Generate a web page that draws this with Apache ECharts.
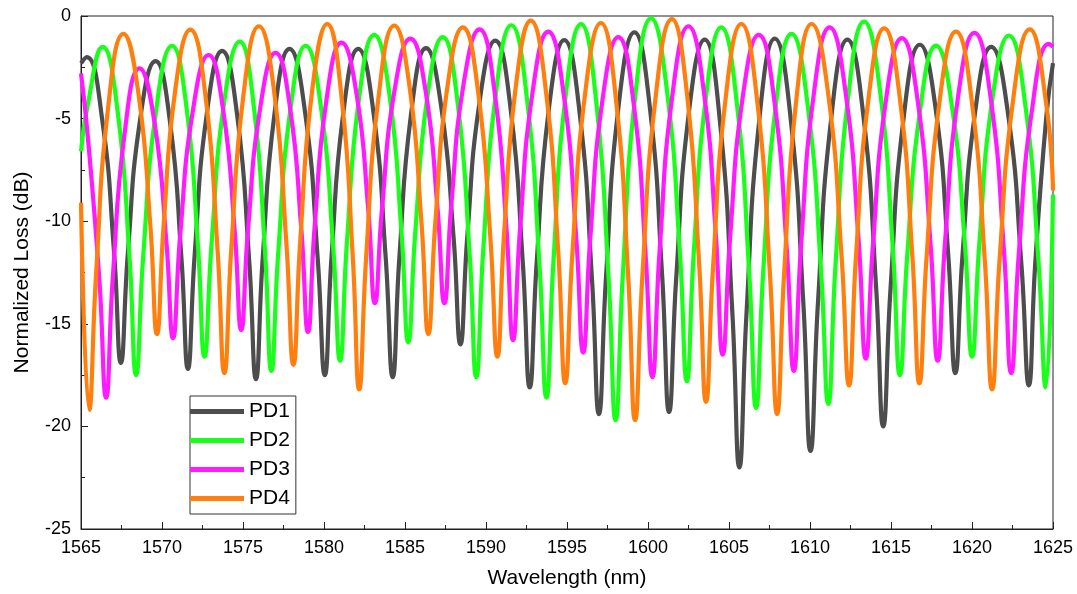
<!DOCTYPE html>
<html>
<head>
<meta charset="utf-8">
<script src="https://cdn.jsdelivr.net/npm/echarts@6/dist/echarts.min.js"></script>
<style>
html,body{margin:0;padding:0;background:#fff;}
#chart{width:1077px;height:594px;}
</style>
</head>
<body>
<div id="chart"></div>
<script>
// Wavelength (nm) vs normalized loss (dB)
const seriesNames = ['PD1', 'PD2', 'PD3', 'PD4'];
const xTicks = [1565, 1570, 1575, 1580, 1585, 1590, 1595, 1600, 1605, 1610, 1615, 1620, 1625];
const yTicks = [-25, -20, -15, -10, -5, 0];

const pd1 = [
  [1565,-2.3],[1565.35,-2.0],[1566.30,-5.0],[1567.04,-11.5],[1567.46,-16.9],
  [1567.89,-11.6],[1568.64,-5.1],[1569.6,-2.2],[1570.5,-5.2],[1571.2,-11.8],[1571.6,-17.2],
  [1572.02,-11.6],[1572.76,-4.8],[1573.71,-1.7],[1574.65,-4.9],[1575.38,-11.9],[1575.8,-17.7],
  [1576.21,-11.9],[1576.94,-4.8],[1577.87,-1.6],[1578.85,-4.8],[1579.61,-11.8],[1580.05,-17.5],
  [1580.46,-11.8],[1581.18,-4.8],[1582.11,-1.6],[1583.07,-4.8],[1583.81,-11.8],[1584.24,-17.6],
  [1584.65,-11.8],[1585.37,-4.8],[1586.3,-1.57],[1587.25,-4.5],[1588.0,-10.8],[1588.42,-16.0],
  [1588.85,-10.7],[1589.6,-4.2],[1590.57,-1.2],[1591.53,-4.6],[1592.27,-12.0],[1592.7,-18.1],
  [1593.13,-12.0],[1593.87,-4.6],[1594.83,-1.18],[1595.79,-4.8],[1596.54,-12.8],[1596.97,-19.4],
  [1597.41,-12.7],[1598.17,-4.5],[1599.16,-0.8],[1600.12,-4.5],[1600.87,-12.6],[1601.3,-19.3],
  [1601.74,-12.8],[1602.51,-4.8],[1603.5,-1.15],[1604.46,-5.3],[1605.21,-14.5],[1605.64,-22.0],
  [1606.08,-14.5],[1606.84,-5.3],[1607.83,-1.1],[1608.82,-5.1],[1609.59,-14.0],[1610.03,-21.2],
  [1610.49,-14.0],[1611.28,-5.2],[1612.31,-1.15],[1613.30,-4.9],[1614.08,-13.2],[1614.52,-20.0],
  [1614.97,-13.3],[1615.76,-5.1],[1616.78,-1.4],[1617.77,-4.6],[1618.53,-11.6],[1618.97,-17.4],
  [1619.41,-11.7],[1620.19,-4.7],[1621.18,-1.5],[1622.23,-4.8],[1623.05,-12.1],[1623.51,-18.0],
  [1623.9,-12.1],[1624.6,-4.8],[1625,-2.3]
];
const pd2 = [
  [1565,-6.6],[1565.4,-4.4],[1566.34,-1.5],[1567.27,-4.7],[1567.99,-11.7],[1568.4,-17.5],
  [1568.84,-11.7],[1569.62,-4.7],[1570.62,-1.45],[1571.52,-4.5],[1572.22,-11.2],[1572.62,-16.6],
  [1573.06,-11.1],[1573.82,-4.3],[1574.8,-1.25],[1575.68,-4.5],[1576.36,-11.5],[1576.75,-17.3],
  [1577.17,-11.6],[1577.92,-4.6],[1578.87,-1.45],[1579.82,-4.5],[1580.57,-11.3],[1580.99,-16.8],
  [1581.41,-11.1],[1582.15,-4.1],[1583.1,-0.92],[1584.05,-3.9],[1584.78,-10.5],[1585.2,-15.9],
  [1585.63,-10.6],[1586.37,-4.0],[1587.33,-1.03],[1588.26,-4.3],[1588.99,-11.6],[1589.4,-17.6],
  [1589.83,-11.4],[1590.59,-3.9],[1591.56,-0.45],[1592.54,-4.1],[1593.3,-12.1],[1593.73,-18.6],
  [1594.16,-12.0],[1594.9,-4.0],[1595.86,-0.4],[1596.82,-4.3],[1597.57,-12.8],[1598.0,-19.7],
  [1598.44,-12.7],[1599.2,-4.0],[1600.19,-0.12],[1601.18,-3.7],[1601.96,-11.4],[1602.4,-17.8],
  [1602.82,-11.6],[1603.57,-4.0],[1604.52,-0.55],[1605.49,-4.3],[1606.24,-12.4],[1606.67,-19.1],
  [1607.11,-12.5],[1607.87,-4.5],[1608.86,-0.87],[1609.88,-4.5],[1610.68,-12.4],[1611.13,-18.9],
  [1611.57,-12.2],[1612.35,-4.0],[1613.34,-0.27],[1614.33,-3.7],[1615.11,-11.3],[1615.55,-17.5],
  [1616.0,-11.7],[1616.78,-4.7],[1617.78,-1.44],[1618.78,-4.5],[1619.56,-11.1],[1620.0,-16.6],
  [1620.46,-11.0],[1621.25,-4.1],[1622.28,-0.95],[1623.3,-4.4],[1624.1,-11.9],[1624.55,-18.1],
  [1625,-8.7]
];
const pd3 = [
  [1565,-2.8],[1565.4,-5.7],[1566.13,-12.8],[1566.55,-18.6],
  [1566.96,-12.8],[1567.68,-5.8],[1568.61,-2.55],[1569.54,-5.2],[1570.27,-11.0],[1570.68,-15.7],
  [1571.12,-10.7],[1571.89,-4.7],[1572.88,-1.9],[1573.78,-4.6],[1574.49,-10.5],[1574.89,-15.3],
  [1575.31,-10.4],[1576.06,-4.5],[1577.01,-1.8],[1577.91,-4.5],[1578.61,-10.5],[1579.01,-15.4],
  [1579.42,-10.3],[1580.15,-4.1],[1581.08,-1.3],[1582.01,-3.8],[1582.73,-9.4],[1583.14,-14.0],
  [1583.58,-9.4],[1584.34,-3.7],[1585.33,-1.1],[1586.28,-3.7],[1587.01,-9.4],[1587.43,-14.0],
  [1587.86,-9.2],[1588.62,-3.3],[1589.6,-0.65],[1590.53,-3.7],[1591.26,-10.3],[1591.67,-15.8],
  [1592.1,-10.4],[1592.86,-3.8],[1593.84,-0.76],[1594.81,-3.9],[1595.57,-10.8],[1596.0,-16.4],
  [1596.43,-10.9],[1597.19,-4.1],[1598.17,-1.03],[1599.12,-4.3],[1599.85,-11.6],[1600.27,-17.6],
  [1600.72,-11.4],[1601.5,-3.9],[1602.5,-0.5],[1603.45,-3.7],[1604.19,-10.7],[1604.61,-16.5],
  [1605.06,-10.9],[1605.84,-4.0],[1606.84,-0.92],[1607.81,-4.2],[1608.57,-11.4],[1609.0,-17.3],
  [1609.44,-11.3],[1610.22,-3.9],[1611.21,-0.55],[1612.21,-3.8],[1613.0,-10.9],[1613.44,-16.7],
  [1613.89,-11.1],[1614.67,-4.2],[1615.67,-1.08],[1616.66,-4.2],[1617.44,-11.1],[1617.88,-16.8],
  [1618.33,-11.1],[1619.13,-4.0],[1620.15,-0.82],[1621.17,-4.1],[1621.97,-11.4],[1622.42,-17.4],
  [1622.89,-11.6],[1623.7,-4.6],[1624.75,-1.36],[1625,-1.5]
];
const pd4 = [
  [1565,-9.1],[1565.51,-19.2],
  [1565.93,-12.6],[1566.67,-4.5],[1567.62,-0.87],[1568.55,-3.8],[1569.28,-10.2],[1569.69,-15.5],
  [1570.1,-10.2],[1570.82,-3.6],[1571.75,-0.66],[1572.7,-4.0],[1573.43,-11.4],[1573.85,-17.4],
  [1574.28,-11.3],[1575.02,-3.9],[1575.98,-0.5],[1576.94,-3.8],[1577.68,-11.1],[1578.11,-17.0],
  [1578.53,-11.0],[1579.26,-3.7],[1580.2,-0.39],[1581.09,-4.0],[1581.78,-11.8],[1582.17,-18.2],
  [1582.6,-11.8],[1583.36,-4.0],[1584.34,-0.47],[1585.29,-3.5],[1586.02,-10.1],[1586.44,-15.5],
  [1586.87,-10.1],[1587.61,-3.5],[1588.57,-0.55],[1589.53,-3.8],[1590.27,-10.8],[1590.7,-16.6],
  [1591.11,-10.7],[1591.83,-3.5],[1592.76,-0.23],[1593.72,-3.8],[1594.46,-11.5],[1594.89,-17.9],
  [1595.33,-11.6],[1596.1,-3.9],[1597.09,-0.34],[1598.04,-4.2],[1598.78,-12.7],[1599.2,-19.7],
  [1599.65,-12.7],[1600.45,-4.1],[1601.47,-0.15],[1602.42,-3.9],[1603.16,-12.1],[1603.58,-18.8],
  [1604.02,-12.2],[1604.78,-4.1],[1605.76,-0.39],[1606.75,-4.2],[1607.53,-12.6],[1607.97,-19.4],
  [1608.4,-12.6],[1609.14,-4.2],[1610.1,-0.39],[1611.14,-3.9],[1611.95,-11.7],[1612.41,-18.0],
  [1612.84,-11.7],[1613.6,-4.1],[1614.58,-0.6],[1615.56,-4.1],[1616.32,-11.7],[1616.75,-17.9],
  [1617.2,-11.7],[1617.99,-4.2],[1619.01,-0.76],[1620.01,-4.3],[1620.79,-11.9],[1621.24,-18.2],
  [1621.7,-11.9],[1622.52,-4.2],[1623.56,-0.65],[1624.57,-4.2],[1625,-8.5]
];
const seriesData = [pd1, pd2, pd3, pd4];
const colors = ['#4d4d4d', '#1aff1a', '#ff1aff', '#ff7f0e'];

const FONT = 'Arial, "Liberation Sans", sans-serif';
const chart = echarts.init(document.getElementById('chart'), null, {renderer: 'canvas'});
chart.setOption({
  animation: false,
  backgroundColor: '#fff',
  grid: {left: 81, right: 24, top: 16, bottom: 62, show: true, borderColor: '#222', borderWidth: 1, backgroundColor: 'transparent'},
  legend: {
    orient: 'vertical', left: 190, top: 396,
    data: seriesNames,
    icon: 'rect', itemWidth: 54, itemHeight: 5, itemGap: 8,
    padding: [5, 6, 5, 0],
    borderColor: '#333', borderWidth: 1, backgroundColor: '#fff',
    textStyle: {fontFamily: FONT, fontSize: 21, color: '#000'}
  },
  xAxis: {
    type: 'value', min: xTicks[0], max: xTicks[xTicks.length - 1], interval: 5,
    name: 'Wavelength (nm)', nameLocation: 'middle', nameGap: 39,
    nameTextStyle: {fontFamily: FONT, fontSize: 21, color: '#000'},
    axisLine: {onZero: false, lineStyle: {color: '#222', width: 1}},
    axisTick: {inside: true, length: 7, lineStyle: {color: '#222'}},
    minorTick: {show: true, splitNumber: 2, length: 4, lineStyle: {color: '#222'}},
    axisLabel: {fontFamily: FONT, fontSize: 18, color: '#000', margin: 10, formatter: v => String(v)},
    splitLine: {show: false}
  },
  yAxis: {
    type: 'value', min: yTicks[0], max: yTicks[yTicks.length - 1], interval: 5,
    name: 'Normalized Loss (dB)', nameLocation: 'middle', nameGap: 48,
    nameTextStyle: {fontFamily: FONT, fontSize: 21, color: '#000'},
    axisLine: {onZero: false, lineStyle: {color: '#222', width: 1}},
    axisTick: {inside: true, length: 7, lineStyle: {color: '#222'}},
    minorTick: {show: true, splitNumber: 2, length: 4, lineStyle: {color: '#222'}},
    axisLabel: {fontFamily: FONT, fontSize: 18, color: '#000', margin: 10, formatter: v => String(v)},
    splitLine: {show: false}
  },
  series: seriesNames.map((name, i) => ({
    name: name, type: 'line', data: seriesData[i],
    smooth: 0.5, showSymbol: false, symbol: 'none',
    color: colors[i],
    lineStyle: {color: colors[i], width: 4.2},
    emphasis: {disabled: true}
  }))
});
</script>
</body>
</html>
